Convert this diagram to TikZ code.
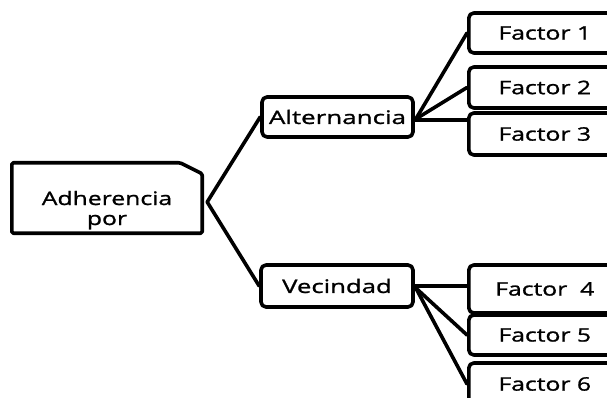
\documentclass[tikz,border=0pt]{standalone}
\usepackage{fontspec}
\setmainfont[FakeStretch=1.33, FakeBold=1.2]{Open Sans}
\begin{document}
\begin{tikzpicture}[x=1pt,y=-1pt,
  boxline/.style={line width=3.6pt, line join=round},
  conn/.style={line width=3.6pt, line cap=round, line join=round},
  rbox/.style={draw, boxline, rounded corners=5pt, inner sep=0pt,
    font=\fontsize{18.6}{17}\selectfont},
  fbox/.style={rbox, minimum width=152pt},
  txt/.style={inner sep=0pt, font=\fontsize{18.6}{17}\selectfont}]
\useasboundingbox (0,0) rectangle (607,398);
\clip (0,0) rectangle (607,398);
% root box
\node[inner sep=0pt, minimum width=190pt, minimum height=70pt] (adh) at (107,198) {};
\draw[boxline, rounded corners=1.5pt] (adh.north west) -- ([xshift=-22pt]adh.north east)
  -- ([yshift=-11pt]adh.north east) -- (adh.south east) -- (adh.south west) -- cycle;
\node[txt, anchor=base] (adhtxt) at (107,205)
  {\begin{tabular}[t]{@{}c@{}}Adherencia\\[3pt]por\end{tabular}};
% level 1
\node[rbox, minimum width=151pt, minimum height=40pt] (alt) at (337.5,117)
  {\scalebox{1.05}[1]{Alternancia}};
\node[rbox, minimum width=152pt, minimum height=42pt] (vec) at (337,286)
  {\scalebox{1.04}[1]{Vecindad}};
% level 2
\node[fbox, minimum height=40pt, anchor=west] (f1) at (467,33) {Factor 1};
\node[fbox, minimum height=41pt, anchor=west] (f2) at (467,87.5) {Factor 2};
\node[fbox, minimum height=42pt, anchor=west] (f3) at (467,134) {Factor 3};
\node[fbox, minimum height=48pt, anchor=west] (f4) at (467,289) {Factor\ \ 4};
\node[fbox, minimum height=40pt, anchor=west] (f5) at (467,335) {Factor 5};
\node[fbox, minimum height=42pt, anchor=west] (f6) at (467,384) {Factor 6};
% connectors
\coordinate (av) at ([xshift=5pt,yshift=-4pt]adh.east);
\coordinate (aj) at ([xshift=1pt,yshift=-2pt]alt.east);
\coordinate (vj) at ([xshift=1pt,yshift=-2pt]vec.east);
\draw[conn] (alt.west) -- (av) -- (vec.west);
\draw[conn] (aj) -- (f1.west);
\draw[conn] (aj) -- (f2.west);
\draw[conn] ([yshift=-3pt]alt.east) -- ([yshift=-3pt]alt.east -| f3.west);
\draw[conn] (vec.east) -- (vec.east -| f4.west);
\draw[conn] (vj) -- (f5.west);
\draw[conn] (vj) -- (f6.west);
\end{tikzpicture}
\end{document}
